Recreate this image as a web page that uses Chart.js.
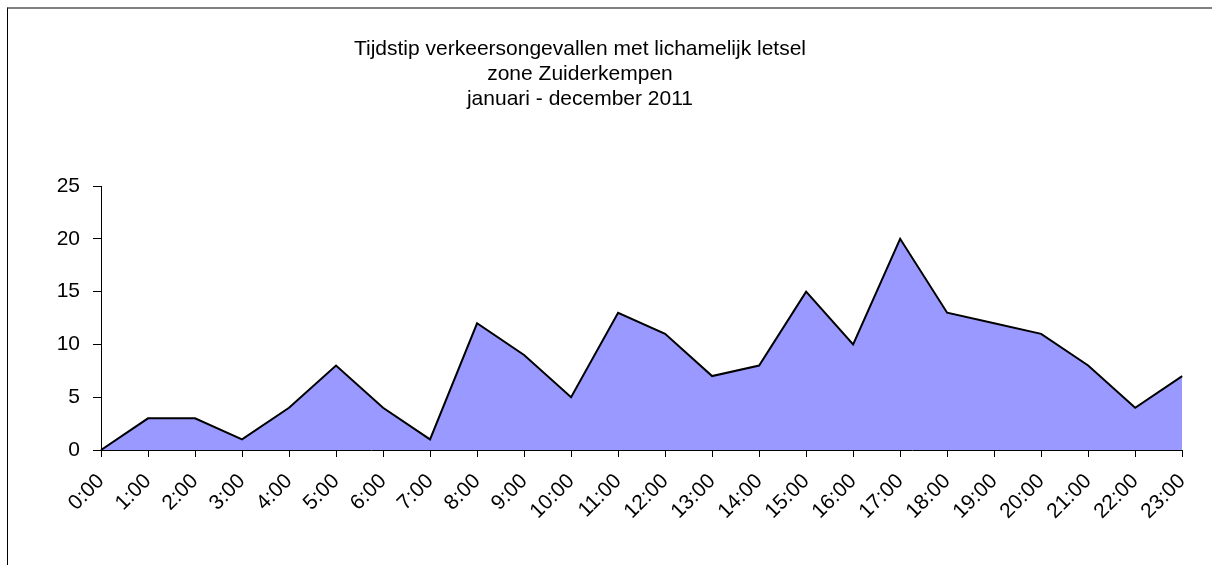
<!DOCTYPE html>
<html>
<head>
<meta charset="utf-8">
<script src="https://cdn.jsdelivr.net/npm/chart.js@4"></script>
<style>
    body { margin: 0; background: #fff; }
    #kader {
        position: absolute;
        left: 7px;
        top: 7px;
        width: 1205px;
        height: 558px;
        border-top: 2px solid #808080;
        border-left: 1px solid #000;
        box-sizing: border-box;
    }
    #titel {
        position: absolute;
        left: 0;
        top: 35px;
        width: 1160px;
        text-align: center;
        font-family: "Liberation Sans", Arial, sans-serif;
        font-size: 21px;
        line-height: 25px;
        color: #000;
    }
</style>
</head>
<body>
<div id="kader"><canvas id="grafiek"></canvas></div>
<div id="titel"></div>
<script>
/* Gegevens */
let uren = ['0:00', '1:00', '2:00', '3:00', '4:00', '5:00', '6:00', '7:00', '8:00', '9:00', '10:00', '11:00',
            '12:00', '13:00', '14:00', '15:00', '16:00', '17:00', '18:00', '19:00', '20:00', '21:00', '22:00', '23:00'];
let ongevallen = [0, 3, 3, 1, 4, 8, 4, 1, 12, 9, 5, 13, 11, 7, 8, 15, 10, 20, 13, 12, 11, 8, 4, 7];
let titel = ['Tijdstip verkeersongevallen met lichamelijk letsel', 'zone Zuiderkempen', 'januari - december 2011'];

// titel boven de grafiek
let titelDiv = document.getElementById('titel');
titel.forEach(function(regel) {
    let d = document.createElement('div');
    d.textContent = regel;
    titelDiv.appendChild(d);
});

Chart.defaults.font.family = '"Liberation Sans", Arial, sans-serif';
Chart.defaults.color = '#000';

let ctx = document.getElementById('grafiek').getContext('2d');
let grafiek = new Chart(ctx, {
    type: 'line',
    data: {
        labels: uren,
        datasets: [{
            data: ongevallen,
            borderColor: '#000',
            backgroundColor: '#9999FF',
            borderWidth: 2,
            pointRadius: 0,
            tension: 0,
            fill: 'origin'
        }]
    },
    options: {
        responsive: true,
        maintainAspectRatio: false,
        animation: false,
        layout: {
            padding: { left: 0, right: 28, top: 177, bottom: 10 }
        },
        plugins: {
            legend: { display: false },
            tooltip: { enabled: false },
            title: { display: false }
        },
        scales: {
            x: {
                offset: false,
                grid: {
                    display: true,
                    drawOnChartArea: false,
                    drawTicks: true,
                    tickLength: 7,
                    color: '#000'
                },
                border: { display: true, color: '#000', width: 1 },
                ticks: {
                    minRotation: 45,
                    maxRotation: 45,
                    autoSkip: false,
                    padding: 12,
                    font: { size: 21 }
                },
                afterFit: function(as) { as.height = 105; }
            },
            y: {
                min: 0,
                max: 25,
                grid: {
                    display: true,
                    drawOnChartArea: false,
                    drawTicks: true,
                    tickLength: 8,
                    color: '#000'
                },
                border: { display: true, color: '#000', width: 1 },
                ticks: {
                    stepSize: 5,
                    padding: 13,
                    font: { size: 21 }
                },
                afterFit: function(as) { as.width = 93; }
            }
        }
    }
});
</script>
</body>
</html>
